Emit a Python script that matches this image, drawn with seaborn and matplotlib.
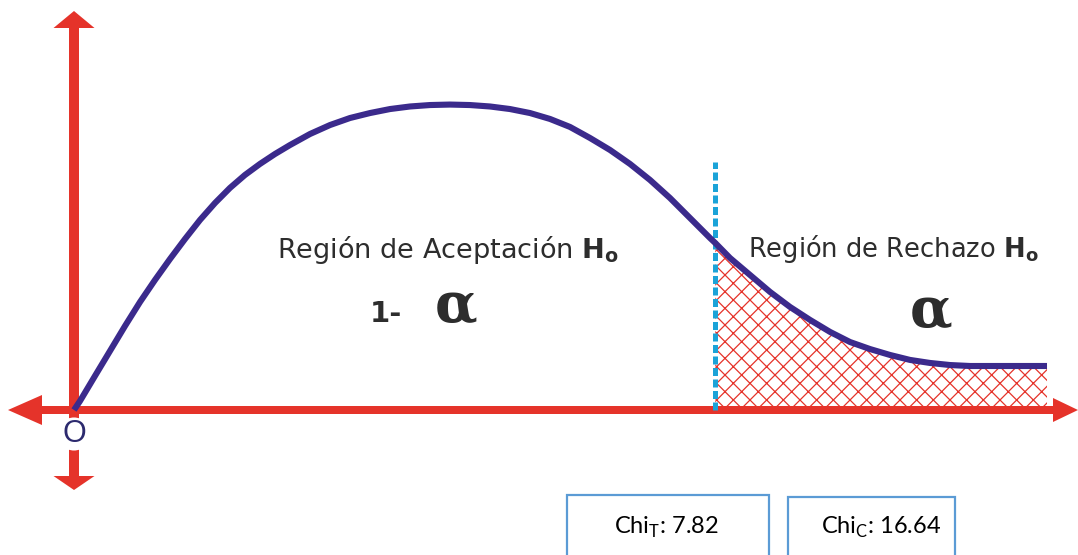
import matplotlib
matplotlib.use("Agg")
import matplotlib.pyplot as plt
import seaborn as sns
from matplotlib.patches import Rectangle

# curve (x in chi-square units, y density-like units)
curve_x = [0.0, 0.073, 0.256, 0.439, 0.622, 0.805, 0.988, 1.171, 1.354,
           1.537, 1.720, 1.902, 2.085, 2.268, 2.451, 2.634, 2.878, 3.122,
           3.366, 3.610, 3.854, 4.098, 4.341, 4.585, 4.829, 5.073, 5.317,
           5.561, 5.805, 6.049, 6.293, 6.537, 6.780, 7.024, 7.268, 7.512,
           7.756, 7.82, 8.0, 8.244, 8.488, 8.732, 8.976, 9.220, 9.463,
           9.707, 9.951, 10.195, 10.439, 10.683, 10.927, 11.293, 11.866]
curve_y = [0.0, 0.0056, 0.0213, 0.0369, 0.0525, 0.0675, 0.0813, 0.0944,
           0.1069, 0.1188, 0.1294, 0.1388, 0.1469, 0.1538, 0.1600, 0.1656,
           0.1725, 0.1781, 0.1825, 0.1856, 0.1881, 0.1897, 0.1906, 0.1909,
           0.1906, 0.1897, 0.1881, 0.1856, 0.1819, 0.1769, 0.1700, 0.1625,
           0.1538, 0.1438, 0.1325, 0.1200, 0.1075, 0.1044, 0.0950, 0.0844,
           0.0738, 0.0644, 0.0563, 0.0488, 0.0425, 0.0381, 0.0344, 0.0313,
           0.0294, 0.0281, 0.0275, 0.0275, 0.0275]

chi_t = 7.82
chi_c = 16.64
crit_line_top = 0.155

RED = "#e5332a"
PURPLE = "#3b2a8c"
CYAN = "#1ba3d8"
TEXT = "#2d2d2d"
BOX = "#5b9bd5"

W, H = 1078, 555
OX, OY = 74, 410          # pixel position of the origin
XS, YS = 82.0, 1600.0     # pixels per data unit

sns.set_theme(style="white")
plt.rcParams["font.family"] = ["DejaVu Sans"]
plt.rcParams["mathtext.fontset"] = "custom"
plt.rcParams["mathtext.rm"] = "DejaVu Sans"
plt.rcParams["mathtext.bf"] = "DejaVu Sans:bold"
plt.rcParams["hatch.linewidth"] = 0.9
plt.rcParams["hatch.color"] = RED

fig = plt.figure(figsize=(W / 100, H / 100), dpi=100)
fig.patch.set_facecolor("white")

# decoration layer in pixel coordinates
deco = fig.add_axes([0, 0, 1, 1], zorder=0)
deco.set_xlim(0, W)
deco.set_ylim(H, 0)
deco.axis("off")

# red axes with arrow heads
arrow_kw = dict(color=RED, lw=0, length_includes_head=True)
deco.arrow(OX, OY, 0, -(OY - 11), width=10, head_width=41, head_length=17, **arrow_kw)
deco.arrow(OX, OY, 0, 80, width=10, head_width=41, head_length=14, **arrow_kw)
deco.arrow(OX, OY, -(OX - 8), 0, width=8, head_width=30, head_length=34, **arrow_kw)
deco.arrow(OX, OY, W - OX, 0, width=8, head_width=24, head_length=25, **arrow_kw)

# data layer
ax = fig.add_axes([0, 0, 1, 1], zorder=1)
ax.patch.set_alpha(0)
ax.set_xlim(-OX / XS, (W - OX) / XS)
ax.set_ylim((OY - H) / YS, OY / YS)
ax.axis("off")

tail_x = [x for x in curve_x if x >= chi_t]
tail_y = [y for x, y in zip(curve_x, curve_y) if x >= chi_t]
ax.fill_between(tail_x, tail_y, 0.002, facecolor="none", edgecolor=RED,
                linewidth=0, hatch="xx", zorder=1)

ax.plot([chi_t, chi_t], [0, crit_line_top], color=CYAN, lw=3.6,
        dashes=(1.6, 0.7), zorder=2)

sns.lineplot(x=curve_x, y=curve_y, ax=ax, color=PURPLE, linewidth=4.4,
             sort=False, zorder=3)
ax.lines[-1].set_solid_capstyle("butt")
ax.lines[-1].set_solid_joinstyle("round")

# labels on the top layer
txt = fig.add_axes([0, 0, 1, 1], zorder=2)
txt.patch.set_alpha(0)
txt.set_xlim(0, W)
txt.set_ylim(H, 0)
txt.axis("off")

txt.text(448, 258, r"Región de Aceptación $\mathbf{H_o}$", ha="center",
         va="baseline", fontsize=19.5, color=TEXT)
txt.text(893, 257, r"Región de Rechazo $\mathbf{H_o}$", ha="center",
         va="baseline", fontsize=18.5, color=TEXT)
txt.text(402, 322, "1-", ha="right", va="baseline", fontsize=21,
         fontweight="bold", color=TEXT)
txt.text(456, 322, "α", ha="center", va="baseline", fontsize=40,
         family="DejaVu Serif", fontweight="bold", color=TEXT)
txt.text(931, 327, "α", ha="center", va="baseline", fontsize=40,
         family="DejaVu Serif", fontweight="bold", color=TEXT)
txt.text(74, 442, "O", ha="center", va="baseline", fontsize=22,
         family="Liberation Sans", color="#2c2a6e",
         bbox=dict(boxstyle="circle,pad=0.05", facecolor="white", edgecolor="none"))

# value boxes
txt.add_patch(Rectangle((567, 495), 202, 80, facecolor="white",
                        edgecolor=BOX, linewidth=1.6, clip_on=False))
txt.add_patch(Rectangle((788, 497), 167, 80, facecolor="white",
                        edgecolor=BOX, linewidth=1.6, clip_on=False))
txt.text(666, 534, r"Chi$_\mathregular{T}$: " + f"{chi_t:.2f}", ha="center",
         va="baseline", fontsize=17, family="Lato", color="black")
txt.text(881, 534, r"Chi$_\mathregular{C}$: " + f"{chi_c:.2f}", ha="center",
         va="baseline", fontsize=17, family="Lato", color="black")

fig.savefig("out.png", dpi=100, facecolor="white")
